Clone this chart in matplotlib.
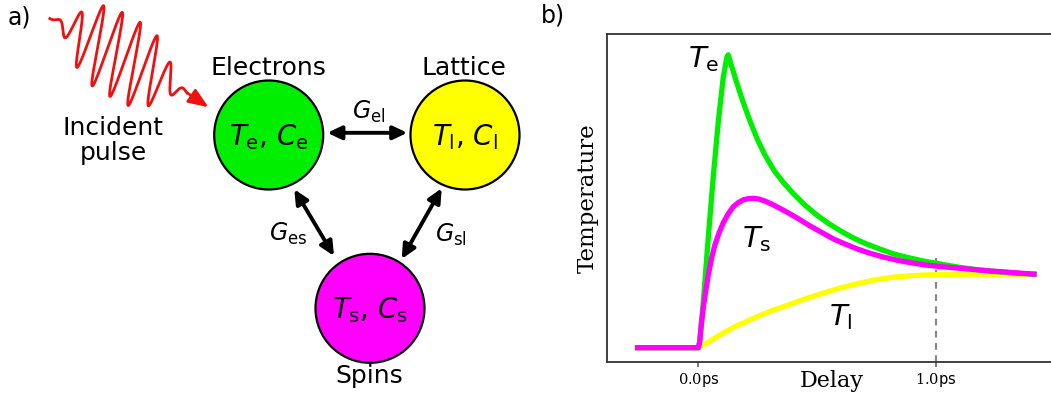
"""Two-panel figure: three-temperature model sketch and temperature transients."""
import numpy as np
import matplotlib
matplotlib.use("Agg")
import matplotlib.pyplot as plt
from matplotlib.patches import Circle, FancyArrowPatch

W, H = 1051, 396

# ---- transient temperatures (arb. units, 0 = initial, 1 = equilibrium) ---- #
t_e = [-0.267, 0.0, 0.006, 0.014, 0.021, 0.042, 0.063, 0.084, 0.105, 0.120,
       0.126, 0.14, 0.16, 0.18, 0.20, 0.22, 0.25, 0.28, 0.32, 0.36,
       0.40, 0.45, 0.50, 0.55, 0.60, 0.65, 0.70, 0.76, 0.82, 0.88,
       0.95, 1.02, 1.10, 1.18, 1.26, 1.34, 1.425]
T_e = [0.0, 0.0, 0.08, 0.35, 0.62, 1.50, 2.33, 3.07, 3.68, 3.95,
       3.99, 3.84, 3.63, 3.43, 3.245, 3.07, 2.83, 2.63, 2.41, 2.245,
       2.10, 1.94, 1.805, 1.69, 1.59, 1.50, 1.425, 1.35, 1.28, 1.23,
       1.18, 1.14, 1.095, 1.06, 1.035, 1.015, 1.0]

t_s = [-0.267, 0.0, 0.006, 0.012, 0.020, 0.028, 0.042, 0.056, 0.070, 0.088,
       0.105, 0.125, 0.147, 0.17, 0.19, 0.21, 0.232, 0.255, 0.28, 0.31,
       0.34, 0.38, 0.42, 0.47, 0.52, 0.57, 0.62, 0.67, 0.72, 0.78,
       0.84, 0.90, 0.95, 1.02, 1.09, 1.16, 1.23, 1.30, 1.36, 1.425]
T_s = [0.0, 0.0, 0.08, 0.30, 0.52, 0.70, 0.99, 1.22, 1.40, 1.57,
       1.70, 1.82, 1.92, 1.98, 2.015, 2.03, 2.035, 2.025, 2.0, 1.955,
       1.905, 1.835, 1.76, 1.66, 1.57, 1.48, 1.41, 1.345, 1.29, 1.235,
       1.19, 1.155, 1.13, 1.105, 1.085, 1.065, 1.045, 1.03, 1.015, 1.0]

t_l = [-0.267, 0.0, 0.05, 0.105, 0.17, 0.246, 0.31, 0.386, 0.45, 0.527,
       0.60, 0.667, 0.74, 0.808, 0.88, 0.948, 1.02, 1.088, 1.425]
T_l = [0.0, 0.0, 0.09, 0.20, 0.31, 0.42, 0.505, 0.59, 0.665, 0.745,
       0.815, 0.87, 0.92, 0.955, 0.978, 0.99, 0.997, 1.0, 1.0]

tick_pos = [0.0, 1.0]
tick_labels = ["$0.0$ps", "$1.0$ps"]

GREEN, YELLOW, MAGENTA, RED = "#00ee00", "#ffff00", "#ff00ff", "#f01010"

fig = plt.figure(figsize=(W / 100, H / 100), dpi=100)

# ---- panel a: schematic, drawn in pixel coordinates ---------------------- #
ax0 = fig.add_axes([0, 0, 1, 1])
ax0.set_xlim(0, W)
ax0.set_ylim(H, 0)
ax0.axis("off")

nodes = {
    "e": ((268.7, 135), GREEN, r"$T_\mathrm{e}$, $C_\mathrm{e}$"),
    "l": ((465, 135), YELLOW, r"$T_\mathrm{l}$, $C_\mathrm{l}$"),
    "s": ((370, 308.3), MAGENTA, r"$T_\mathrm{s}$, $C_\mathrm{s}$"),
}
for (cx, cy), col, lab in nodes.values():
    ax0.add_patch(Circle((cx, cy), 54.5, facecolor=col, edgecolor="black", lw=1.6))
    ax0.text(cx, cy + 2, lab, ha="center", va="center", fontsize=20)

ax0.text(268, 75, "Electrons", ha="center", va="baseline", fontsize=18)
ax0.text(464, 75, "Lattice", ha="center", va="baseline", fontsize=18)
ax0.text(369, 383, "Spins", ha="center", va="baseline", fontsize=18)
ax0.text(113, 135, "Incident", ha="center", va="baseline", fontsize=18)
ax0.text(113, 160, "pulse", ha="center", va="baseline", fontsize=18)
ax0.text(8, 25, "a)", ha="left", va="baseline", fontsize=17)
ax0.text(541, 22, "b)", ha="left", va="baseline", fontsize=17)

couplings = [
    ((327.3, 132.8), (407.3, 132.8), r"$G_\mathrm{el}$", (368.5, 112)),
    ((294.3, 189.3), (334, 256), r"$G_\mathrm{es}$", (288, 234)),
    ((441.7, 188.3), (401.7, 259), r"$G_\mathrm{sl}$", (451, 235)),
]
for p0, p1, lab, (lx, ly) in couplings:
    ax0.add_patch(FancyArrowPatch(p0, p1, arrowstyle="<|-|>,head_length=0.42,head_width=0.2",
                                  mutation_scale=20, color="black", lw=2.8,
                                  shrinkA=0, shrinkB=0))
    ax0.text(lx, ly, lab, ha="center", va="center", fontsize=17)

# laser pulse: flat-topped wave packet travelling towards the electron bath
m = np.array([0.876, 0.482])
d = np.array([-0.26, 0.966])
d /= np.linalg.norm(d)
s = np.linspace(0, 156, 800)
amp = 41 * np.exp(-0.5 * np.abs((s - 80) / 47) ** 4)
wave = (np.array([50, 18]) + s[:, None] * m
        + (amp * np.sin(2 * np.pi * s / 20.5 + 2.0))[:, None] * d)
ax0.plot(wave[:, 0], wave[:, 1], color=RED, lw=2, solid_joinstyle="round")
ax0.add_patch(FancyArrowPatch(tuple(wave[-1]), (208.5, 107.3),
                              arrowstyle="-|>,head_length=0.6,head_width=0.24",
                              mutation_scale=20, color=RED, lw=2,
                              shrinkA=0, shrinkB=0))

# ---- panel b: temperature transients ------------------------------------- #
x0_px, x1_px, y0_px, y1_px = 606.7, 1060, 34.3, 362.3
ax = fig.add_axes([x0_px / W, (H - y1_px) / H, (x1_px - x0_px) / W, (y1_px - y0_px) / H])
ps = 237.4      # pixels per ps
unit = 73.4     # pixels per temperature unit
ax.set_xlim((x0_px - 698.3) / ps, (x1_px - 698.3) / ps)
ax.set_ylim((347.7 - y1_px) / unit, (347.7 - y0_px) / unit)

ax.vlines(1.0, ax.get_ylim()[0], 1.22, colors="#888888", linestyles=(0, (3, 2.5)),
          lw=1.6, zorder=1)
line_kw = dict(lw=3.8, solid_capstyle="butt", solid_joinstyle="round", zorder=2)
ax.plot(t_l, T_l, color=YELLOW, **line_kw)
ax.plot(t_e, T_e, color=GREEN, **line_kw)
ax.plot(t_s, T_s, color=MAGENTA, **line_kw)

ax.text(0.022, 3.93, r"$T_\mathrm{e}$", ha="center", va="center", fontsize=21)
ax.text(0.244, 1.485, r"$T_\mathrm{s}$", ha="center", va="center", fontsize=21)
ax.text(0.602, 0.411, r"$T_\mathrm{l}$", ha="center", va="center", fontsize=21)

for side in ("left", "top", "bottom"):
    ax.spines[side].set_color("#333333")
    ax.spines[side].set_linewidth(1.3)
ax.spines["right"].set_visible(False)
ax.set_yticks([])
ax.set_xticks(tick_pos, labels=tick_labels)
for lbl in ax.get_xticklabels():
    lbl.set_math_fontfamily("dejavuserif")
ax.tick_params(axis="x", length=3.5, width=1.2, color="#666666", labelsize=10.5, pad=3)

ax.set_xlabel("Delay", family="DejaVu Serif", fontsize=16)
ax.xaxis.label.set_va("baseline")
ax.xaxis.set_label_coords((832 - x0_px) / (x1_px - x0_px), (y1_px - 386.7) / (y1_px - y0_px))
ax.set_ylabel("Temperature", family="DejaVu Serif", fontsize=16.5)
ax.yaxis.label.set_va("center")
ax.yaxis.set_label_coords((587.3 - x0_px) / (x1_px - x0_px), 0.5)

fig.savefig("out.png", dpi=100)
